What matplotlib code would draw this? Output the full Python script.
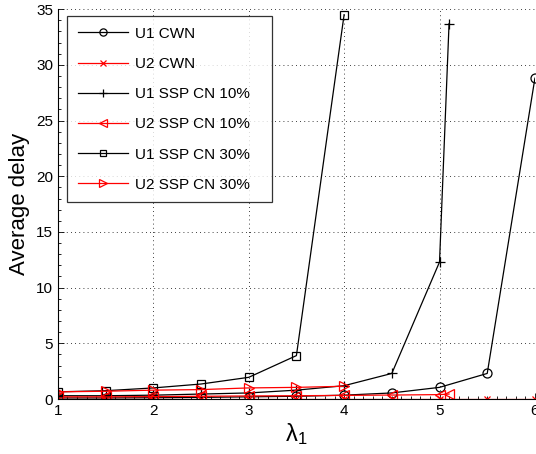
import matplotlib
matplotlib.use("Agg")
import matplotlib.pyplot as plt
from matplotlib.ticker import MultipleLocator

plt.rcParams['font.family'] = ['Liberation Sans', 'DejaVu Sans']
plt.rcParams['mathtext.fontset'] = 'custom'
plt.rcParams['mathtext.rm'] = 'Liberation Sans'

x_cwn = [1, 1.5, 2, 2.5, 3, 3.5, 4, 4.5, 5, 5.5, 6]
u1_cwn = [0.1, 0.1, 0.12, 0.15, 0.2, 0.25, 0.35, 0.55, 1.05, 2.3, 28.8]
u2_cwn = [0.05, 0.05, 0.05, 0.05, 0.05, 0.05, 0.05, 0.05, 0.05, 0.05, 0.05]

x_ssp10 = [1, 1.5, 2, 2.5, 3, 3.5, 4, 4.5, 5, 5.1]
u1_ssp10 = [0.3, 0.3, 0.35, 0.45, 0.55, 0.8, 1.2, 2.3, 12.3, 33.7]
u2_ssp10 = [0.2, 0.2, 0.22, 0.25, 0.28, 0.3, 0.33, 0.36, 0.4, 0.45]

x_ssp30 = [1, 1.5, 2, 2.5, 3, 3.5, 4]
u1_ssp30 = [0.65, 0.75, 1.0, 1.35, 1.95, 3.9, 34.5]
u2_ssp30 = [0.65, 0.7, 0.8, 0.85, 1.0, 1.05, 1.15]

labels = ["U1 CWN", "U2 CWN", "U1 SSP CN 10%", "U2 SSP CN 10%",
          "U1 SSP CN 30%", "U2 SSP CN 30%"]

fig = plt.figure(figsize=(5.36, 4.54), dpi=100)
ax = fig.add_axes([0.108, 0.121, 0.89, 0.859])

lw = 0.9
ax.plot(x_cwn, u1_cwn, color='black', marker='o', mfc='none', ms=6.5, mew=0.9, lw=lw, label=labels[0])
ax.plot(x_cwn, u2_cwn, color='red', marker='x', mfc='none', ms=5, mew=0.9, lw=lw, label=labels[1])
ax.plot(x_ssp10, u1_ssp10, color='black', marker='+', mfc='none', ms=7.5, mew=0.9, lw=lw, label=labels[2])
ax.plot(x_ssp10, u2_ssp10, color='red', marker='<', mfc='none', ms=6.5, mew=0.9, lw=lw, label=labels[3])
ax.plot(x_ssp30, u1_ssp30, color='black', marker='s', mfc='none', ms=6, mew=0.9, lw=lw, label=labels[4])
ax.plot(x_ssp30, u2_ssp30, color='red', marker='>', mfc='none', ms=6.5, mew=0.9, lw=lw, label=labels[5])

ax.set_xlim(1, 6)
ax.set_ylim(0, 35)
ax.xaxis.set_major_locator(MultipleLocator(1))
ax.yaxis.set_major_locator(MultipleLocator(5))
ax.xaxis.set_minor_locator(MultipleLocator(0.1))
ax.yaxis.set_minor_locator(MultipleLocator(1))
ax.tick_params(which='both', direction='in', labelsize=11, width=0.6)
ax.tick_params(which='major', length=4)
ax.tick_params(which='minor', length=2)
ax.grid(True, which='major', linestyle=(0, (1, 4)), color='black', linewidth=0.6)
for s in ['top', 'right']:
    ax.spines[s].set_visible(False)
for s in ['left', 'bottom']:
    ax.spines[s].set_linewidth(0.8)

ax.set_ylabel("Average delay", fontsize=16, labelpad=4)
ax.set_xlabel(r"$\mathregular{\lambda_1}$", fontsize=17, labelpad=2)

leg = ax.legend(loc='upper left', bbox_to_anchor=(0.019, 0.982, 0.430, 0.0), mode='expand',
                fontsize=11, handlelength=3.3, labelspacing=1.06, borderpad=0.7,
                borderaxespad=0.0, frameon=True, fancybox=False, edgecolor='black',
                handletextpad=0.45, markerscale=0.8)
leg.get_frame().set_linewidth(0.9)

fig.savefig("out.png", dpi=100)
